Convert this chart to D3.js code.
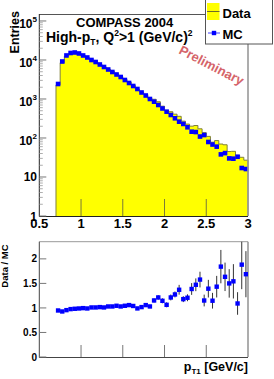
<!DOCTYPE html>
<html><head><meta charset="utf-8">
<script src="https://cdn.jsdelivr.net/npm/d3@7"></script>
<style>html,body{margin:0;padding:0;background:#fff;}svg{display:block;font-family:"Liberation Sans",Arial,sans-serif;font-weight:bold;}</style>
</head><body>
<svg id="c" width="274" height="379"></svg>
<script>
// ---- data ----
const binCenters = [0.725,0.775,0.825,0.875,0.925,0.975,1.025,1.075,1.125,1.175,1.225,1.275,1.325,1.375,1.425,1.475,1.525,1.575,1.625,1.675,1.725,1.775,1.825,1.875,1.925,1.975,2.025,2.075,2.125,2.175,2.225,2.275,2.325,2.375,2.425,2.475,2.525,2.575,2.625,2.675,2.725,2.775,2.825,2.875,2.925,2.975];
const binWidth = 0.05;
const mcValues = [2424,9152,13050,15120,15570,14680,13050,11590,10000,8887,7665,6615,5706,4922,4248,3665,3070,2572,2154,1805,1468,1229,1000,853,702,571,473,389,320,262,229,188,145,142,109,119,79,68,60,38,41,30,29.5,33,17,16];
const dataValues = [2298,8493,12463,14757,15305,14519,12998,11463,10100,8976,7795,6681,5877,5070,4435,3775,3205,2721,2240,1787,1493,1300,1030,983,852,654,503,472,408,359,270,227,201,209,172,137,110,78,86,70,67,45,45.5,36,32,27];
const ratioErr = [0.01,0.01,0.01,0.01,0.01,0.01,0.01,0.01,0.012,0.012,0.013,0.014,0.015,0.016,0.017,0.018,0.02,0.022,0.024,0.026,0.028,0.03,0.034,0.04,0.045,0.05,0.05,0.06,0.06,0.1,0.06,0.07,0.12,0.13,0.16,0.12,0.18,0.16,0.22,0.34,0.29,0.29,0.35,0.23,0.5,0.47];
const xTicks = [0.5,1,1.5,2,2.5,3];
const xTickLabels = ["0.5","1","1.5","2","2.5","3"];
const logTicks = [1,10,100,1000,10000,100000];
const logTickLabels = [["1",""],["10",""],["10","2"],["10","3"],["10","4"],["10","5"]];
const ratioTicks = [0,0.5,1,1.5,2];
const ratioTickLabels = ["0","0.5","1","1.5","2"];

const svg = d3.select("#c");
const L = 39.3, R = 248;
const x = d3.scaleLinear().domain([0.5,3]).range([L,R]);
const y = d3.scaleLog().domain([1,1.51e5]).range([216,14]);
const yr = d3.scaleLinear().domain([0,2.35]).range([357,241.7]);

// ---- top panel: data histogram ----
const pts = [];
binCenters.forEach((c,i)=>{
  pts.push([x(c-binWidth/2), y(dataValues[i])]);
  pts.push([x(c+binWidth/2), y(dataValues[i])]);
});
const area = [[x(binCenters[0]-binWidth/2), y(1)], ...pts, [x(binCenters[binCenters.length-1]+binWidth/2), y(1)]];
svg.append("path").attr("d", d3.line()(area)).attr("fill","#ffff00").attr("stroke","#80803c").attr("stroke-width",1);

// x ticks top (inside, upward)
svg.append("g").selectAll("line").data(xTicks.slice(1,5)).join("line")
  .attr("x1",d=>x(d)).attr("x2",d=>x(d)).attr("y1",216).attr("y2",199)
  .attr("stroke","#7a7a3a").attr("stroke-width",1);

// MC markers
svg.append("g").selectAll("rect").data(binCenters).join("rect")
  .attr("x",(d)=>x(d)-2.3).attr("y",(d,i)=>y(mcValues[i])-2.3).attr("width",4.6).attr("height",4.6).attr("fill","#0000ff");

// frame
svg.append("line").attr("x1",L).attr("x2",205).attr("y1",14.5).attr("y2",14.5).attr("stroke","#555").attr("stroke-width",1);
svg.append("line").attr("x1",R).attr("x2",R).attr("y1",44).attr("y2",216).attr("stroke","#999").attr("stroke-width",1.6);
svg.append("line").attr("x1",L).attr("x2",L).attr("y1",14).attr("y2",216.5).attr("stroke","#222").attr("stroke-width",1);
svg.append("line").attr("x1",L).attr("x2",R).attr("y1",216.5).attr("y2",216.5).attr("stroke","#222").attr("stroke-width",1);

// log y ticks
const gy = svg.append("g");
logTicks.forEach(t=>{
  gy.append("line").attr("x1",L).attr("x2",L+7).attr("y1",y(t)).attr("y2",y(t)).attr("stroke","#777");
  if (t<1e5) for (let k=2;k<=9;k++){
    const v=t*k; if (v>1.51e5) break;
    gy.append("line").attr("x1",L).attr("x2",L+3.5).attr("y1",y(v)).attr("y2",y(v)).attr("stroke","#999").attr("stroke-width",0.8);
  }
});
logTickLabels.forEach((lab,i)=>{
  const t = logTicks[i];
  const tx = gy.append("text").attr("text-anchor","end").attr("x",37).attr("font-size",12).attr("fill","#000");
  if (lab[1]) {
    tx.attr("y", y(t)+7.5);
    tx.append("tspan").text(lab[0]);
    tx.append("tspan").attr("font-size",8).attr("dy",-6).text(lab[1]);
  } else {
    tx.attr("y", y(t)+4.5).text(lab[0]);
  }
});
// x labels
svg.append("g").selectAll("text").data(xTicks).join("text")
  .attr("x",d=>x(d)).attr("y",227.5).attr("text-anchor","middle").attr("font-size",13).text((d,i)=>xTickLabels[i]);

// titles
svg.append("text").attr("transform","translate(19,11) rotate(-90)").attr("text-anchor","end").attr("font-size",12.5).text("Entries");
svg.append("text").attr("x",76).attr("y",27).attr("font-size",13).text("COMPASS 2004");
const sub = svg.append("text").attr("x",46).attr("y",42).attr("font-size",14);
sub.append("tspan").text("High-p");
sub.append("tspan").attr("font-size",8.5).attr("dy",3).text("T");
sub.append("tspan").attr("dy",-3).text(", Q");
sub.append("tspan").attr("font-size",8.5).attr("dy",-6).text("2");
sub.append("tspan").attr("dy",6).text(">1 (GeV/c)");
sub.append("tspan").attr("font-size",8.5).attr("dy",-6).text("2");
svg.append("text").attr("transform","translate(178,53) rotate(27.5)").attr("font-size",13).attr("fill","#d5646a").text("Preliminary");

// legend
svg.append("rect").attr("x",205.5).attr("y",-1).attr("width",67).attr("height",45).attr("fill","#fff").attr("stroke","#555").attr("stroke-width",1);
svg.append("rect").attr("x",207).attr("y",3).attr("width",12.5).attr("height",17).attr("fill","#ffff00");
svg.append("line").attr("x1",207).attr("x2",219.5).attr("y1",11.5).attr("y2",11.5).attr("stroke","#6e6a2a").attr("stroke-width",1);
svg.append("text").attr("x",222.5).attr("y",17.5).attr("font-size",13).text("Data");
svg.append("line").attr("x1",208).attr("x2",220).attr("y1",33).attr("y2",33).attr("stroke","#4040ff").attr("stroke-width",1);
svg.append("rect").attr("x",211.8).attr("y",30.8).attr("width",4.4).attr("height",4.4).attr("fill","#0000ff");
svg.append("text").attr("x",222.5).attr("y",39).attr("font-size",13).text("MC");

// ---- bottom panel: ratio ----
svg.append("line").attr("x1",L).attr("x2",R).attr("y1",241.7).attr("y2",241.7).attr("stroke","#999").attr("stroke-width",1);
svg.append("line").attr("x1",R).attr("x2",R).attr("y1",241.7).attr("y2",357).attr("stroke","#999").attr("stroke-width",1.6);
svg.append("line").attr("x1",L).attr("x2",L).attr("y1",241.7).attr("y2",357.5).attr("stroke","#444").attr("stroke-width",1);
svg.append("line").attr("x1",L).attr("x2",R).attr("y1",357.5).attr("y2",357.5).attr("stroke","#444").attr("stroke-width",1);
svg.append("g").selectAll("line").data(xTicks.slice(1,5)).join("line")
  .attr("x1",d=>x(d)).attr("x2",d=>x(d)).attr("y1",357).attr("y2",345).attr("stroke","#777");
const gr = svg.append("g");
ratioTicks.forEach((t,i)=>{
  gr.append("line").attr("x1",L).attr("x2",L+7).attr("y1",yr(t)).attr("y2",yr(t)).attr("stroke","#777");
  gr.append("text").attr("x",37).attr("y",yr(t)+3.6).attr("text-anchor","end").attr("font-size",10).text(ratioTickLabels[i]);
});
const ratio = dataValues.map((d,i)=>d/mcValues[i]);
svg.append("defs").append("clipPath").attr("id","rc").append("rect").attr("x",L).attr("y",241.7).attr("width",R-L).attr("height",357-241.7);
const gp = svg.append("g").attr("clip-path","url(#rc)");
gp.selectAll("line").data(binCenters).join("line")
  .attr("x1",d=>x(d)).attr("x2",d=>x(d))
  .attr("y1",(d,i)=>yr(ratio[i]-ratioErr[i])).attr("y2",(d,i)=>yr(ratio[i]+ratioErr[i]))
  .attr("stroke","#333").attr("stroke-width",1);
gp.selectAll("rect").data(binCenters).join("rect")
  .attr("x",d=>x(d)-2.2).attr("y",(d,i)=>yr(ratio[i])-2.2).attr("width",4.4).attr("height",4.4).attr("fill","#0000ff");

svg.append("text").attr("transform","translate(8,266) rotate(-90)").attr("text-anchor","middle").attr("font-size",9.5).text("Data / MC");
const xt = svg.append("text").attr("x",248).attr("y",371).attr("text-anchor","end").attr("font-size",12.5);
xt.append("tspan").text("p");
xt.append("tspan").attr("font-size",8).attr("dy",3).text("T1");
xt.append("tspan").attr("dy",-3).text(" [GeV/c]");
</script>
</body></html>
